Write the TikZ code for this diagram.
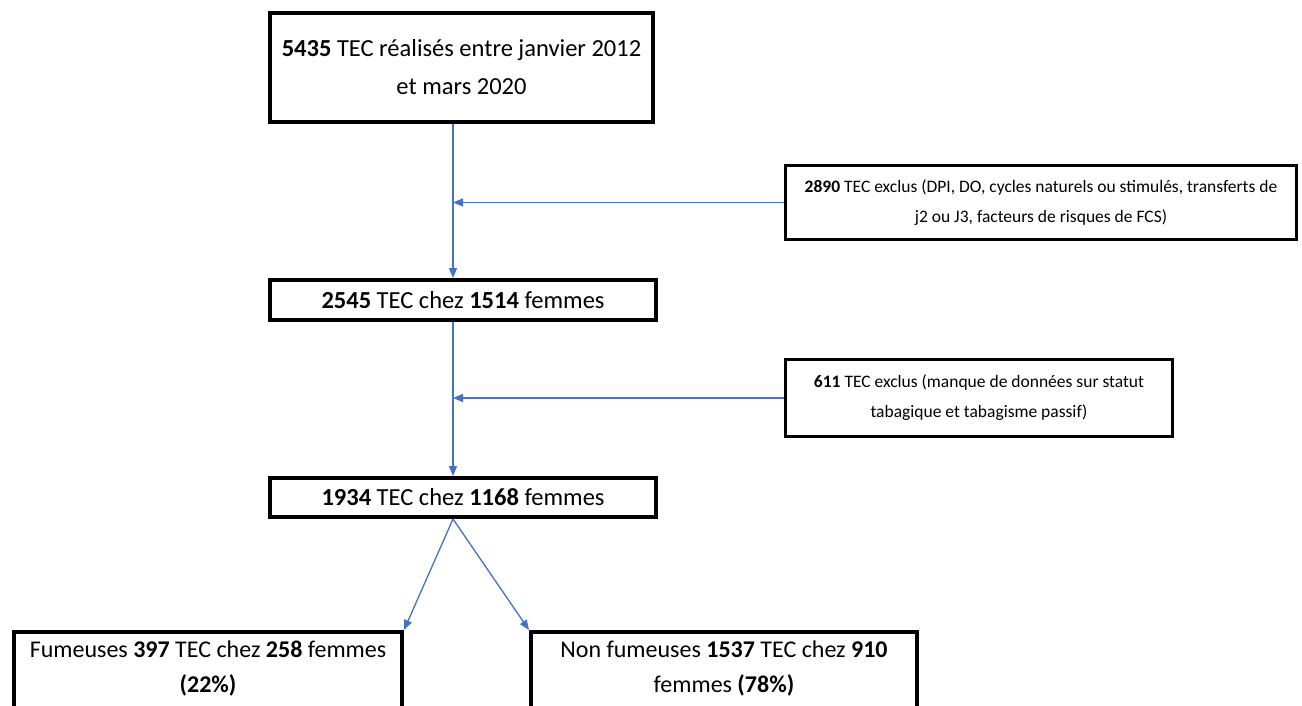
\documentclass[tikz,border=0pt]{standalone}
\usepackage{fontspec}
\setmainfont{Carlito}
\usetikzlibrary{arrows.meta}
\definecolor{arrowblue}{HTML}{4472C4}
\tikzset{
  box/.style={draw=black, line width=4pt, rectangle, inner sep=0pt, align=center, fill=white},
  exbox/.style={draw=black, line width=3pt, rectangle, inner sep=0pt, align=center, fill=white},
  btext/.style={align=center, inner sep=0pt, font=\fontsize{24}{35}\selectfont},
  arr/.style={draw=arrowblue, line width=1.3pt, -{Triangle[length=10pt,width=8pt]}}
}
\begin{document}
\begin{tikzpicture}[x=1pt,y=-1pt]
\useasboundingbox (0,0) rectangle (1302,706);
\fill[white] (0,0) rectangle (1302,706);
\coordinate (spine) at (453,0);

\node[box, minimum width=383pt, minimum height=109pt, font=\fontsize{24.5}{38}\selectfont] (top) at (461.5,67.5)
  {\textbf{5435} TEC réalisés entre janvier 2012\\et mars 2020};

\node[exbox, minimum width=511pt, minimum height=74pt, font=\fontsize{17.5}{30}\selectfont] (ex1) at (1041,202.5)
  {\textbf{2890} TEC exclus (DPI, DO, cycles naturels ou stimulés, transferts de\\j2 ou J3, facteurs de risques de FCS)};

\node[box, minimum width=386pt, minimum height=40pt, font=\fontsize{24.5}{26}\selectfont] (b1) at (463,300)
  {\textbf{2545} TEC chez \textbf{1514} femmes};

\node[exbox, minimum width=387pt, minimum height=77pt, font=\fontsize{17.5}{30}\selectfont] (ex2) at (979,398)
  {\textbf{611} TEC exclus (manque de données sur statut\\tabagique et tabagisme passif)};

\node[box, minimum width=386pt, minimum height=39pt, font=\fontsize{24.5}{26}\selectfont] (b2) at (463,497.5)
  {\textbf{1934} TEC chez \textbf{1168} femmes};

\node[box, minimum width=388pt, minimum height=92pt, anchor=north west] (fum) at (12,630) {};
\node[btext, anchor=north] (fumt) at ([yshift=-11pt]fum.north)
  {Fumeuses \textbf{397} TEC chez \textbf{258} femmes\\\textbf{(22\%)}};

\node[box, minimum width=386pt, minimum height=92pt, anchor=north west] (nf) at (529,630) {};
\node[btext, anchor=north] (nft) at ([yshift=-11pt]nf.north)
  {Non fumeuses \textbf{1537} TEC chez \textbf{910}\\femmes \textbf{(78\%)}};

\draw[arr] (top.south -| spine) -- (b1.north -| spine);
\draw[arr] (ex1.west) -- (ex1.west -| spine);
\draw[arr] (b1.south -| spine) -- (b2.north -| spine);
\draw[arr] (ex2.west) -- (ex2.west -| spine);
\draw[arr] (b2.south -| spine) -- (fum.north east);
\draw[arr] (b2.south -| spine) -- (nf.north west);
\end{tikzpicture}
\end{document}
